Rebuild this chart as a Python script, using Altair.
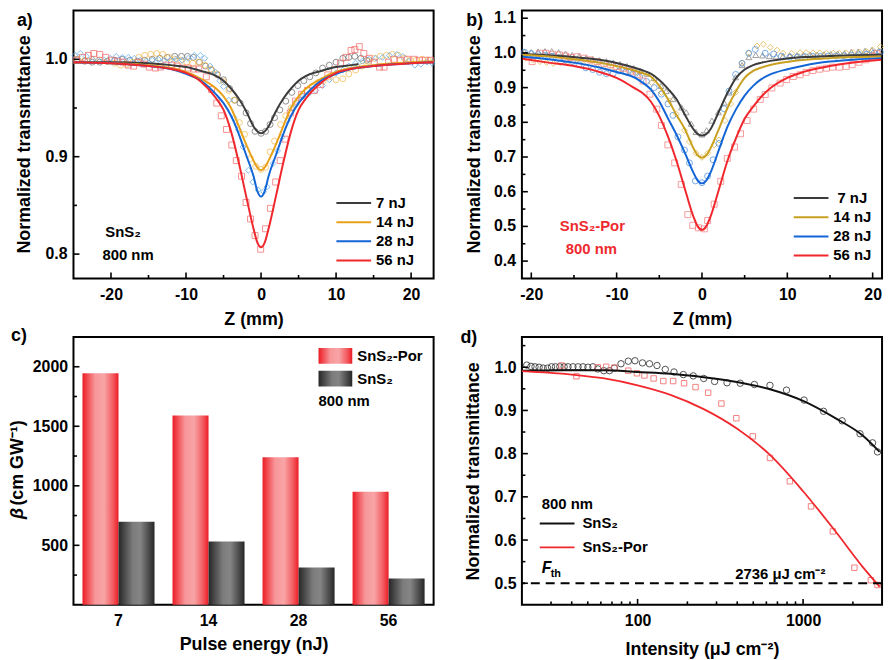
import altair as alt
import pandas as pd

FONT = "Liberation Sans"
W, H = 363, 270

# ---------------- panel a (SnS2) ----------------
A_SERIES = ["7 nJ", "14 nJ", "28 nJ", "56 nJ"]
A_FIT_Z7 = [-25, -20, -15, -12, -10, -8, -6, -5, -4, -3, -2, -1, -0.5, 0, 0.5, 1, 2, 3, 4, 5, 6, 8, 10, 12, 13]
A_FIT_7 = [0.997, 0.997, 0.996, 0.994, 0.992, 0.988, 0.983, 0.978, 0.970, 0.960, 0.947, 0.931, 0.926, 0.924,
           0.926, 0.931, 0.947, 0.960, 0.970, 0.978, 0.983, 0.988, 0.992, 0.994, 0.995]
A_FIT_Z = [-25, -20, -15, -12, -10, -8, -6, -5, -4, -3, -2, -1, -0.5, 0, 0.5, 1, 2, 3, 4, 5, 6, 8, 10, 12, 15, 20, 23]
A_FIT_14 = [0.997, 0.996, 0.994, 0.991, 0.987, 0.980, 0.970, 0.962, 0.950, 0.932, 0.913, 0.896, 0.889, 0.886,
            0.889, 0.896, 0.913, 0.932, 0.950, 0.962, 0.970, 0.980, 0.987, 0.991, 0.994, 0.997, 0.998]
A_FIT_28 = [0.997, 0.996, 0.993, 0.990, 0.985, 0.978, 0.964, 0.955, 0.942, 0.924, 0.902, 0.880, 0.865, 0.859,
            0.865, 0.880, 0.902, 0.924, 0.942, 0.955, 0.964, 0.978, 0.985, 0.990, 0.993, 0.996, 0.997]
A_FIT_56 = [0.997, 0.996, 0.993, 0.990, 0.986, 0.977, 0.960, 0.948, 0.926, 0.895, 0.860, 0.826, 0.812, 0.807,
            0.812, 0.826, 0.860, 0.895, 0.926, 0.948, 0.960, 0.976, 0.986, 0.990, 0.993, 0.996, 0.997]

A_Z7 = [-24.5, -23.5, -22.5, -21.5, -20.5, -19.5, -18.5, -17.5, -16.5, -15.5, -14.5, -13.5, -12.5, -11.5,
        -10.6, -9.8, -9.0, -8.2, -7.4, -6.6, -5.8, -5.0, -4.2, -3.5, -2.8, -2.0, -1.4, -0.8, 0.0, 0.6, 1.2,
        1.8, 2.5, 3.3, 4.1, 4.9, 5.7, 6.5, 7.3, 8.2, 9.1, 10.0, 10.9, 11.7, 12.5, 13.3, 14.1]
A_T7 = [1.000, 0.998, 0.997, 0.997, 0.998, 0.999, 1.000, 0.999, 0.998, 0.999, 1.000, 1.001, 1.002, 1.003,
        1.003, 1.003, 1.002, 0.997, 0.993, 0.989, 0.984, 0.979, 0.970, 0.958, 0.955, 0.945, 0.934, 0.926,
        0.924, 0.926, 0.933, 0.940, 0.948, 0.957, 0.966, 0.973, 0.978, 0.982, 0.986, 0.991, 0.994, 0.997,
        1.001, 1.002, 1.003, 1.001, 0.999]
A_Z14 = [-24.5, -23.5, -22.5, -21.5, -20.5, -19.5, -18.7, -17.9, -17.1, -16.3, -15.5, -14.7, -13.9, -13.1,
         -12.3, -11.5, -10.7, -9.9, -9.1, -8.3, -7.5, -6.7, -5.9, -5.0, -4.3, -3.6, -2.9, -2.2, -1.4, -0.7,
         0.0, 0.6, 1.2, 1.8, 2.6, 3.3, 4.0, 4.7, 5.4, 6.1, 6.8, 7.6, 8.3, 9.1, 10.0, 10.9, 11.7, 12.6, 13.5,
         14.3, 15.1, 15.9, 16.7, 17.5, 18.3, 19.1, 19.9, 20.7, 21.5, 22.3]
A_T14 = [1.000, 0.999, 1.000, 0.999, 0.998, 0.996, 0.994, 0.995, 0.997, 1.002, 1.004, 1.005, 1.006, 1.005,
         1.002, 1.000, 0.999, 0.997, 0.996, 0.997, 0.994, 0.990, 0.985, 0.977, 0.968, 0.958, 0.935, 0.923,
         0.898, 0.890, 0.887, 0.889, 0.905, 0.916, 0.933, 0.942, 0.950, 0.955, 0.962, 0.968, 0.972, 0.976,
         0.978, 0.982, 0.979, 0.980, 0.985, 0.989, 0.993, 0.998, 1.001, 1.003, 1.004, 1.005, 1.004, 1.001,
         0.999, 0.999, 1.000, 0.999]
A_Z28 = [-24.8, -24.1, -23.3, -22.5, -21.7, -20.9, -20.1, -19.3, -18.5, -17.7, -16.9, -16.1, -15.3, -14.5,
         -13.7, -12.9, -12.1, -11.3, -10.5, -9.7, -8.9, -8.1, -7.5, -6.8, -6.1, -5.5, -5.0, -4.3, -3.6, -3.0,
         -2.4, -1.7, -1.1, -0.4, 0.35, 0.8, 1.6, 2.2, 2.8, 3.5, 4.2, 4.9, 5.6, 6.4, 7.3, 8.2, 9.1, 10.0, 10.9,
         11.7, 12.6, 13.5, 14.4, 15.3, 16.2, 17.1, 18.1, 18.9, 19.7, 20.5, 21.3, 22.1, 22.8]
A_T28 = [1.004, 1.006, 1.003, 1.000, 0.999, 0.999, 1.001, 1.003, 1.002, 1.002, 1.001, 0.999, 0.998, 0.999,
         1.000, 0.999, 0.999, 1.000, 0.999, 1.001, 1.004, 1.004, 1.001, 0.993, 0.987, 0.978, 0.972, 0.958,
         0.940, 0.928, 0.910, 0.886, 0.874, 0.866, 0.864, 0.869, 0.893, 0.906, 0.920, 0.937, 0.950, 0.958,
         0.962, 0.965, 0.968, 0.973, 0.979, 0.986, 0.989, 0.993, 0.996, 0.998, 1.000, 1.001, 1.002, 1.004,
         1.005, 1.003, 0.998, 0.994, 0.995, 0.997, 0.996]
A_Z56 = [-24.6, -23.8, -23.0, -22.3, -21.5, -20.7, -19.9, -19.1, -18.4, -17.7, -17.0, -16.3, -15.6, -14.9,
         -14.1, -13.4, -12.7, -11.9, -11.2, -10.5, -9.7, -9.0, -8.3, -7.3, -6.6, -5.9, -5.3, -4.6, -3.9, -3.3,
         -2.6, -2.0, -1.4, -0.8, -0.05, 0.6, 1.25, 1.95, 2.55, 3.2, 3.9, 4.6, 5.4, 6.2, 7.1, 7.9, 8.9, 9.8,
         10.6, 11.3, 12.0, 12.5, 13.1, 13.7, 14.4, 15.1, 15.8, 16.4, 17.0, 17.7, 18.6, 19.5, 20.4, 21.1, 21.9, 22.6]
A_T56 = [0.999, 1.002, 1.004, 1.006, 1.005, 1.002, 0.999, 0.998, 0.997, 0.994, 0.993, 0.997, 0.995, 0.992,
         0.991, 0.992, 0.994, 0.994, 0.993, 0.991, 0.991, 0.990, 0.990, 0.982, 0.969, 0.955, 0.942, 0.928,
         0.912, 0.896, 0.880, 0.853, 0.836, 0.819, 0.805, 0.826, 0.847, 0.874, 0.896, 0.918, 0.945, 0.957,
         0.964, 0.968, 0.968, 0.974, 0.984, 0.989, 0.996, 1.002, 1.009, 1.010, 1.013, 1.006, 1.001, 0.997,
         0.992, 0.992, 0.997, 1.000, 0.999, 1.000, 1.000, 0.999, 0.999, 0.999]

# ---------------- panel b (SnS2-Por) ----------------
B_FIT_Z = [-21, -18, -15, -12, -10, -8, -7, -6, -5, -4, -3, -2, -1, -0.5, 0, 0.5, 1, 2, 3, 4, 5, 6, 7, 8, 10,
           12, 15, 18, 21]
B_FIT_7 = [0.997, 0.993, 0.988, 0.980, 0.971, 0.958, 0.950, 0.940, 0.922, 0.897, 0.867, 0.822, 0.780, 0.766,
           0.762, 0.766, 0.780, 0.832, 0.885, 0.928, 0.952, 0.965, 0.972, 0.977, 0.984, 0.988, 0.991, 0.993, 0.995]
B_FIT_14 = [0.995, 0.990, 0.982, 0.972, 0.962, 0.950, 0.942, 0.932, 0.905, 0.867, 0.822, 0.780, 0.725, 0.705,
            0.698, 0.705, 0.725, 0.782, 0.842, 0.890, 0.928, 0.948, 0.958, 0.965, 0.974, 0.980, 0.985, 0.988, 0.990]
B_FIT_28 = [0.989, 0.982, 0.972, 0.958, 0.945, 0.930, 0.915, 0.895, 0.860, 0.812, 0.765, 0.712, 0.655, 0.632,
            0.624, 0.632, 0.655, 0.722, 0.788, 0.838, 0.877, 0.905, 0.925, 0.938, 0.953, 0.964, 0.975, 0.981, 0.985]
B_FIT_56 = [0.983, 0.972, 0.962, 0.945, 0.928, 0.900, 0.885, 0.860, 0.818, 0.760, 0.690, 0.608, 0.528, 0.500,
            0.490, 0.500, 0.528, 0.608, 0.690, 0.755, 0.810, 0.845, 0.875, 0.898, 0.928, 0.946, 0.962, 0.973, 0.980]

B_Z7 = [-20.8, -20.0, -19.2, -18.4, -17.6, -16.8, -16.0, -15.2, -14.4, -13.6, -12.8, -12.0, -11.2, -10.4,
        -9.6, -8.8, -8.0, -7.2, -6.4, -5.6, -4.8, -4.2, -3.4, -2.4, -1.85, -1.27, -0.7, 0.0, 0.54, 1.16, 1.93,
        2.59, 3.17, 3.94, 4.7, 5.5, 6.3, 7.1, 7.9, 8.7, 9.5, 10.3, 11.1, 11.9, 12.7, 13.5, 14.3, 15.1, 15.9,
        16.7, 17.5, 18.3, 19.1, 19.9, 20.7]
B_T7 = [1.003, 1.002, 1.004, 1.005, 1.005, 1.002, 0.998, 0.994, 0.990, 0.985, 0.982, 0.979, 0.976, 0.972,
        0.968, 0.962, 0.956, 0.948, 0.940, 0.928, 0.905, 0.890, 0.867, 0.843, 0.829, 0.796, 0.772, 0.765,
        0.777, 0.805, 0.829, 0.857, 0.886, 0.930, 0.965, 0.988, 0.994, 0.993, 0.991, 0.990, 0.991, 0.992,
        0.993, 0.994, 0.995, 0.995, 0.996, 0.997, 0.998, 0.999, 1.003, 1.004, 1.006, 1.008, 1.006]
B_Z14 = [-20.6, -19.8, -19.0, -18.2, -17.4, -16.6, -15.8, -15.0, -14.2, -13.4, -12.6, -11.8, -11.0, -10.2,
         -9.4, -8.6, -7.8, -7.1, -5.9, -4.75, -3.8, -3.0, -2.05, -1.47, -0.7, 0.0, 0.66, 1.43, 2.0, 2.7, 3.36,
         3.94, 4.7, 5.48, 6.45, 7.2, 8.0, 8.8, 9.5, 10.5, 11.5, 12.2, 13.0, 13.8, 14.6, 15.4, 16.1, 16.9, 17.7,
         18.5, 19.3, 20.0, 20.9]
B_T14 = [0.985, 0.980, 0.975, 0.972, 0.970, 0.972, 0.975, 0.978, 0.975, 0.972, 0.968, 0.963, 0.958, 0.955,
         0.952, 0.948, 0.943, 0.938, 0.914, 0.886, 0.862, 0.824, 0.777, 0.744, 0.711, 0.699, 0.711, 0.735,
         0.749, 0.805, 0.853, 0.886, 0.971, 0.999, 1.020, 1.025, 1.016, 1.008, 0.999, 0.999, 1.001, 1.001,
         1.000, 1.000, 0.999, 0.999, 0.999, 1.000, 1.001, 1.002, 1.004, 1.008, 1.018]
B_Z28 = [-20.8, -20.0, -19.2, -18.4, -17.6, -16.8, -16.0, -15.2, -14.4, -13.6, -12.8, -12.0, -11.2, -10.4,
         -9.7, -8.9, -8.1, -7.3, -6.5, -5.6, -4.75, -3.98, -3.4, -2.82, -2.05, -1.47, -0.77, 0.0, 0.66, 1.31,
         2.0, 2.59, 3.17, 3.94, 4.7, 5.48, 6.25, 7.41, 8.4, 9.3, 10.3, 11.2, 12.1, 13.0, 13.9, 14.8, 15.7,
         16.6, 17.5, 18.4, 19.3, 20.2, 20.9]
B_T28 = [1.002, 0.998, 0.995, 0.993, 0.990, 0.985, 0.980, 0.975, 0.966, 0.957, 0.952, 0.944, 0.940, 0.941,
         0.948, 0.945, 0.938, 0.930, 0.918, 0.900, 0.881, 0.853, 0.820, 0.758, 0.720, 0.683, 0.631, 0.626,
         0.645, 0.692, 0.739, 0.839, 0.890, 0.938, 0.970, 0.999, 1.010, 0.999, 0.997, 0.990, 0.988, 0.988,
         0.989, 0.990, 0.990, 0.991, 0.991, 0.992, 0.993, 0.995, 0.997, 1.000, 1.002]
B_Z56 = [-19.9, -19.0, -18.3, -17.5, -16.7, -16.0, -15.4, -14.6, -13.8, -13.1, -12.3, -11.5, -10.7, -10.0,
         -9.2, -8.4, -7.6, -6.9, -6.1, -5.3, -4.75, -4.0, -3.2, -2.43, -1.66, -1.08, -0.42, 0.27, 0.66, 1.43,
         2.2, 2.97, 3.82, 4.52, 5.29, 6.06, 6.83, 7.41, 8.19, 9.15, 9.92, 10.7, 11.5, 12.2, 13.0, 13.8, 14.6,
         15.3, 16.1, 16.9, 17.6, 18.4, 19.2, 20.0, 20.5]
B_T56 = [0.975, 0.999, 0.999, 0.996, 0.994, 0.991, 0.987, 0.989, 0.985, 0.980, 0.975, 0.970, 0.966, 0.961,
         0.956, 0.947, 0.937, 0.919, 0.881, 0.838, 0.791, 0.735, 0.683, 0.621, 0.534, 0.503, 0.496, 0.493,
         0.517, 0.564, 0.630, 0.696, 0.729, 0.767, 0.805, 0.838, 0.866, 0.880, 0.899, 0.913, 0.923, 0.932,
         0.937, 0.944, 0.949, 0.953, 0.956, 0.959, 0.959, 0.961, 0.966, 0.973, 0.980, 0.989, 0.998]

# ---------------- panel c (beta) ----------------
C_ENERGY = ["7", "14", "28", "56"]
C_BETA_POR = [1945, 1590, 1240, 949]
C_BETA_SNS2 = [698, 533, 313, 222]

# ---------------- panel d (intensity) ----------------
D_I_SNS2 = [21.4, 22.7, 24.0, 25.4, 26.9, 28.6, 30.2, 31.9, 33.9, 36.0, 38.0, 40.7, 43.7, 46.8, 50.1, 53.7,
            57.5, 62.5, 67.6, 72.4, 79.4, 87.9, 96.4, 107, 118, 131, 147, 166, 189, 217, 251, 292, 347, 417,
            508, 631, 794, 1014, 1330, 1722, 2208, 2630, 2818]
D_T_SNS2 = [1.005, 1.002, 1.001, 1.000, 0.998, 0.998, 1.001, 1.001, 1.001, 1.001, 1.001, 1.001, 1.001, 1.001,
            1.000, 1.001, 0.996, 0.992, 0.992, 0.998, 1.008, 1.014, 1.015, 1.010, 1.008, 1.004, 0.995, 0.989,
            0.983, 0.980, 0.974, 0.967, 0.964, 0.963, 0.960, 0.958, 0.947, 0.924, 0.898, 0.876, 0.846, 0.825, 0.804]
D_I_POR = [34.7, 42.7, 57.5, 64.6, 72.4, 87.9, 99.1, 110, 125, 143, 164, 191, 224, 267, 321, 395, 497, 631,
           832, 1117, 1514, 2042, 2570, 2818]
D_T_POR = [1.004, 0.979, 1.000, 1.001, 0.999, 0.992, 0.986, 0.981, 0.974, 0.968, 0.968, 0.963, 0.954, 0.941,
           0.916, 0.882, 0.840, 0.790, 0.736, 0.678, 0.620, 0.536, 0.507, 0.496]
D_FIT_I = [20, 40, 63, 100, 158, 251, 398, 631, 1000, 1585, 2291, 2900]
D_FIT_SNS2 = [0.992, 0.993, 0.993, 0.989, 0.985, 0.977, 0.966, 0.949, 0.922, 0.881, 0.842, 0.804]
D_FIT_POR = [0.991, 0.983, 0.974, 0.958, 0.936, 0.903, 0.858, 0.797, 0.713, 0.618, 0.538, 0.492]
D_THRESHOLD = [0.5]

# ---------------- tick values ----------------
Z_MAJOR = [-20, -10, 0, 10, 20]
Z_MINOR = [-15, -5, 5, 15]
A_Y_MAJOR = [0.8, 0.9, 1.0]
A_Y_MINOR = [0.85, 0.95]
B_Y_MAJOR = [0.4, 0.5, 0.6, 0.7, 0.8, 0.9, 1.0, 1.1]
B_Y_MINOR = [0.45, 0.55, 0.65, 0.75, 0.85, 0.95, 1.05]
C_Y_MAJOR = [500, 1000, 1500, 2000]
C_Y_MINOR = [250, 750, 1250, 1750]
D_X_MAJOR = [100, 1000]
D_X_MINOR = [30, 40, 50, 60, 70, 80, 90, 200, 300, 400, 500, 600, 700, 800, 900, 2000]
D_Y_MAJOR = [0.5, 0.6, 0.7, 0.8, 0.9, 1.0]
D_Y_MINOR = [0.55, 0.65, 0.75, 0.85, 0.95, 1.05]

RED_TXT = "#ee2a2e"
YTITLE = "Normalized transmittance"


def long_df(groups):
    frames = []
    for name, xs, ys in groups:
        frames.append(pd.DataFrame({"x": xs, "y": ys, "s": name}))
    return pd.concat(frames, ignore_index=True)


def one():
    return pd.DataFrame({"k": [0]})


def txt(s, x, y, size=15, color="black", align="left", weight="bold", style="normal", angle=0):
    return alt.Chart(pd.DataFrame({"t": [s]})).mark_text(
        align=align, baseline="middle", font=FONT, fontSize=size, fontWeight=weight,
        fontStyle=style, color=color, angle=angle).encode(x=alt.value(x), y=alt.value(y), text="t:N")


def seg(x1, x2, y, color, width=2.0):
    return alt.Chart(one()).mark_rule(color=color, strokeWidth=width).encode(
        x=alt.value(x1), x2=alt.value(x2), y=alt.value(y))


def xticks(values, length):
    return alt.Chart(pd.DataFrame({"x": values})).mark_rule(color="black", strokeWidth=1.6).encode(
        x="x:Q", y=alt.value(H), y2=alt.value(H - length))


def yticks(values, length):
    return alt.Chart(pd.DataFrame({"y": values})).mark_rule(color="black", strokeWidth=1.6).encode(
        y="y:Q", x=alt.value(0), x2=alt.value(length))


def ylabels(values):
    return alt.Chart(pd.DataFrame({"y": values})).transform_calculate(
        lab="format(datum.y, '.1f')").mark_text(
        align="right", baseline="middle", font=FONT, fontSize=16, fontWeight="bold", color="black").encode(
        y="y:Q", x=alt.value(-6), text="lab:N")


def zscan_panel(fit_groups, pt_groups, xdom, ydom, ymajor, ticks_minor_y, line_colors, marker_colors,
                shapes, title_x):
    xs = alt.Scale(domain=xdom, nice=False, zero=False)
    ys = alt.Scale(domain=ydom, nice=False, zero=False)
    xax = alt.Axis(values=Z_MAJOR, labelExpr="'' + datum.value", title="Z (mm)", labelOverlap=False)
    yax = alt.Axis(labels=False, title=None)
    pts = alt.Chart(long_df(pt_groups)).mark_point(filled=False, size=36, strokeWidth=1, opacity=0.75).encode(
        x=alt.X("x:Q", scale=xs, axis=xax),
        y=alt.Y("y:Q", scale=ys, axis=yax),
        color=alt.Color("s:N", scale=alt.Scale(domain=A_SERIES, range=marker_colors), legend=None),
        shape=alt.Shape("s:N", scale=alt.Scale(domain=A_SERIES, range=shapes), legend=None),
    )
    lines = alt.Chart(long_df(fit_groups)).mark_line(interpolate="monotone", strokeWidth=2).encode(
        x=alt.X("x:Q", scale=xs),
        y=alt.Y("y:Q", scale=ys),
        color=alt.Color("s:N", scale=alt.Scale(domain=A_SERIES, range=line_colors), legend=None),
    )
    return [pts, lines, xticks(Z_MAJOR, 6), xticks(Z_MINOR, 3.5), yticks(ymajor, 6), yticks(ticks_minor_y, 3.5),
            ylabels(ymajor), txt(YTITLE, title_x, H / 2, size=18, align="center", angle=270)]


# ----- panel a -----
a_line_colors = ["#3c3c3c", "#e8a21a", "#1466d6", "#f0282d"]
a_layers = zscan_panel(
    [("7 nJ", A_FIT_Z7, A_FIT_7), ("14 nJ", A_FIT_Z, A_FIT_14), ("28 nJ", A_FIT_Z, A_FIT_28),
     ("56 nJ", A_FIT_Z, A_FIT_56)],
    [("7 nJ", A_Z7, A_T7), ("14 nJ", A_Z14, A_T14), ("28 nJ", A_Z28, A_T28), ("56 nJ", A_Z56, A_T56)],
    [-25, 23], [0.775, 1.05], A_Y_MAJOR, A_Y_MINOR, a_line_colors,
    ["#6b6b6b", "#f2b84b", "#5aa9ee", "#f26b6b"], ["circle", "circle", "diamond", "square"], -49)
a_leg = []
for i, (name, col) in enumerate(zip(A_SERIES, a_line_colors)):
    yy = 194 + i * 19.3
    a_leg.append(seg(265, 300, yy, col))
    a_leg.append(txt(name, 305, yy))
pa = alt.layer(*a_layers, *a_leg,
               txt("SnS\u2082", 50, 223, align="center"), txt("800 nm", 55, 246, align="center"),
               txt("a)", -57, 11, size=18)).resolve_scale(color="independent", shape="independent").properties(
    width=W, height=H)

# ----- panel b -----
b_line_colors = ["#3c3c3c", "#c9a020", "#1466d6", "#f0282d"]
b_layers = zscan_panel(
    [("7 nJ", B_FIT_Z, B_FIT_7), ("14 nJ", B_FIT_Z, B_FIT_14), ("28 nJ", B_FIT_Z, B_FIT_28),
     ("56 nJ", B_FIT_Z, B_FIT_56)],
    [("7 nJ", B_Z7, B_T7), ("14 nJ", B_Z14, B_T14), ("28 nJ", B_Z28, B_T28), ("56 nJ", B_Z56, B_T56)],
    [-21.1, 21.1], [0.35, 1.122], B_Y_MAJOR, B_Y_MINOR, b_line_colors,
    ["#808080", "#e0b040", "#4a8fe0", "#f47c7c"], ["triangle-up", "diamond", "circle", "square"], -47)
b_leg = []
for i, (name, col) in enumerate(zip(A_SERIES, b_line_colors)):
    yy = 189 + i * 19.3
    b_leg.append(seg(274, 309, yy, col))
    b_leg.append(txt(name, 333, yy, align="center"))
pb = alt.layer(*b_layers, *b_leg,
               txt("SnS\u2082-Por", 71, 217, align="center", color=RED_TXT),
               txt("800 nm", 70, 240, align="center", color=RED_TXT),
               txt("b)", -56, 11, size=18)).resolve_scale(color="independent", shape="independent").properties(
    width=W, height=H)

# ----- panel c -----
RED_GRAD = alt.Gradient(gradient="linear", x1=0, x2=1, y1=0, y2=0, stops=[
    alt.GradientStop(offset=0, color="#ec1c24"), alt.GradientStop(offset=0.35, color="#f7979a"),
    alt.GradientStop(offset=0.6, color="#f8a4a6"), alt.GradientStop(offset=0.85, color="#f25a5f"),
    alt.GradientStop(offset=1, color="#ec1c24")])
BLK_GRAD = alt.Gradient(gradient="linear", x1=0, x2=1, y1=0, y2=0, stops=[
    alt.GradientStop(offset=0, color="#262626"), alt.GradientStop(offset=0.4, color="#7c7c7c"),
    alt.GradientStop(offset=0.6, color="#858585"), alt.GradientStop(offset=0.85, color="#4a4a4a"),
    alt.GradientStop(offset=1, color="#262626")])
C_GROUPS = ["SnS2-Por", "SnS2"]
c_df = pd.DataFrame({"E": C_ENERGY * 2, "beta": C_BETA_POR + C_BETA_SNS2,
                     "s": [C_GROUPS[0]] * 4 + [C_GROUPS[1]] * 4})
cx = alt.X("E:N", sort=C_ENERGY, scale=alt.Scale(paddingInner=0.2, paddingOuter=0.1),
           axis=alt.Axis(labelAngle=0, title="Pulse energy (nJ)", titlePadding=7))
cxo = alt.XOffset("s:N", sort=C_GROUPS, scale=alt.Scale(domain=C_GROUPS, paddingInner=0, paddingOuter=0))
cy = alt.Y("beta:Q", scale=alt.Scale(domain=[0, 2250], nice=False),
           axis=alt.Axis(values=C_Y_MAJOR, format="d", title=None, labelOverlap=False))
c_red = alt.Chart(c_df).transform_filter(alt.datum.s == C_GROUPS[0]).mark_bar(fill=RED_GRAD).encode(
    x=cx, xOffset=cxo, y=cy)
c_blk = alt.Chart(c_df).transform_filter(alt.datum.s == C_GROUPS[1]).mark_bar(fill=BLK_GRAD).encode(
    x=cx, xOffset=cxo, y=cy)
pc = alt.layer(
    c_red, c_blk, yticks(C_Y_MAJOR, 6), yticks(C_Y_MINOR, 3.5),
    alt.Chart(one()).mark_rect(fill=RED_GRAD).encode(x=alt.value(247), x2=alt.value(281), y=alt.value(11),
                                                     y2=alt.value(27)),
    alt.Chart(one()).mark_rect(fill=BLK_GRAD).encode(x=alt.value(247), x2=alt.value(281), y=alt.value(34),
                                                     y2=alt.value(50)),
    txt("SnS\u2082-Por", 286, 19), txt("SnS\u2082", 286, 42), txt("800 nm", 247, 65),
    txt("\u03b2", -56, 178, size=18, style="italic", align="center", angle=270),
    txt("(cm GW\u207b\u00b9)", -56, 127, size=18, align="center", angle=270),
    txt("c)", -63, -1, size=18),
).properties(width=W, height=H)

# ----- panel d -----
dxs = alt.Scale(type="log", domain=[20, 3000], nice=False)
dys = alt.Scale(domain=[0.45, 1.07], nice=False, zero=False)
dxax = alt.Axis(values=D_X_MAJOR, format="d", title="Intensity (\u03bcJ cm\u207b\u00b2)", titlePadding=12,
                labelOverlap=False)
dyax = alt.Axis(values=D_Y_MAJOR, format=".1f", title=YTITLE, titlePadding=12, labelOverlap=False)
d_pts1 = alt.Chart(pd.DataFrame({"x": D_I_SNS2, "y": D_T_SNS2})).mark_point(
    shape="circle", filled=False, size=42, strokeWidth=1, color="#333333", opacity=0.85).encode(
    x=alt.X("x:Q", scale=dxs, axis=dxax), y=alt.Y("y:Q", scale=dys, axis=dyax))
d_pts2 = alt.Chart(pd.DataFrame({"x": D_I_POR, "y": D_T_POR})).mark_point(
    shape="square", filled=False, size=30, strokeWidth=1, color="#f26b6b", opacity=0.85).encode(
    x=alt.X("x:Q", scale=dxs), y=alt.Y("y:Q", scale=dys))
d_fit1 = alt.Chart(pd.DataFrame({"x": D_FIT_I, "y": D_FIT_SNS2})).mark_line(
    interpolate="monotone", color="#111111", strokeWidth=2).encode(x=alt.X("x:Q", scale=dxs),
                                                                   y=alt.Y("y:Q", scale=dys))
d_fit2 = alt.Chart(pd.DataFrame({"x": D_FIT_I, "y": D_FIT_POR})).mark_line(
    interpolate="monotone", color="#f0282d", strokeWidth=1.8).encode(x=alt.X("x:Q", scale=dxs),
                                                                     y=alt.Y("y:Q", scale=dys))
d_thr = alt.Chart(pd.DataFrame({"y": D_THRESHOLD})).mark_rule(
    color="black", strokeWidth=2, strokeDash=[9, 6]).encode(y=alt.Y("y:Q", scale=dys))
pd_ = alt.layer(
    d_pts1, d_pts2, d_fit1, d_fit2, d_thr,
    xticks(D_X_MAJOR, 6), xticks(D_X_MINOR, 3.5), yticks(D_Y_MAJOR, 6), yticks(D_Y_MINOR, 3.5),
    txt("800 nm", 20, 168), seg(18, 53, 188, "#111111"), txt("SnS\u2082", 61, 188),
    seg(18, 53, 212, "#f0282d", 1.8), txt("SnS\u2082-Por", 61, 212),
    txt("F", 20, 233, size=16, style="italic"), txt("th", 29, 239, size=11),
    txt("2736 \u03bcJ cm\u207b\u00b2", 215, 239),
    txt("d)", -62, 1, size=18),
).properties(width=W, height=H)

chart = alt.concat(pa, pb, pc, pd_, columns=2, spacing={"row": 59, "column": 89}, bounds="flush").properties(
    padding={"left": 0, "top": -2, "right": 0, "bottom": 0}
).configure_view(stroke="black", strokeWidth=2).configure_axis(
    grid=False, ticks=False, domain=False, titlePadding=8, labelOverlap=False,
    labelFont=FONT, labelFontSize=16, labelFontWeight="bold", labelColor="black",
    titleFont=FONT, titleFontSize=18, titleFontWeight="bold", titleColor="black",
).configure_axisX(labelPadding=8).configure_axisY(labelPadding=6).configure_text(font=FONT)

chart.save("out.html", embed_options={"renderer": "svg", "actions": False})
